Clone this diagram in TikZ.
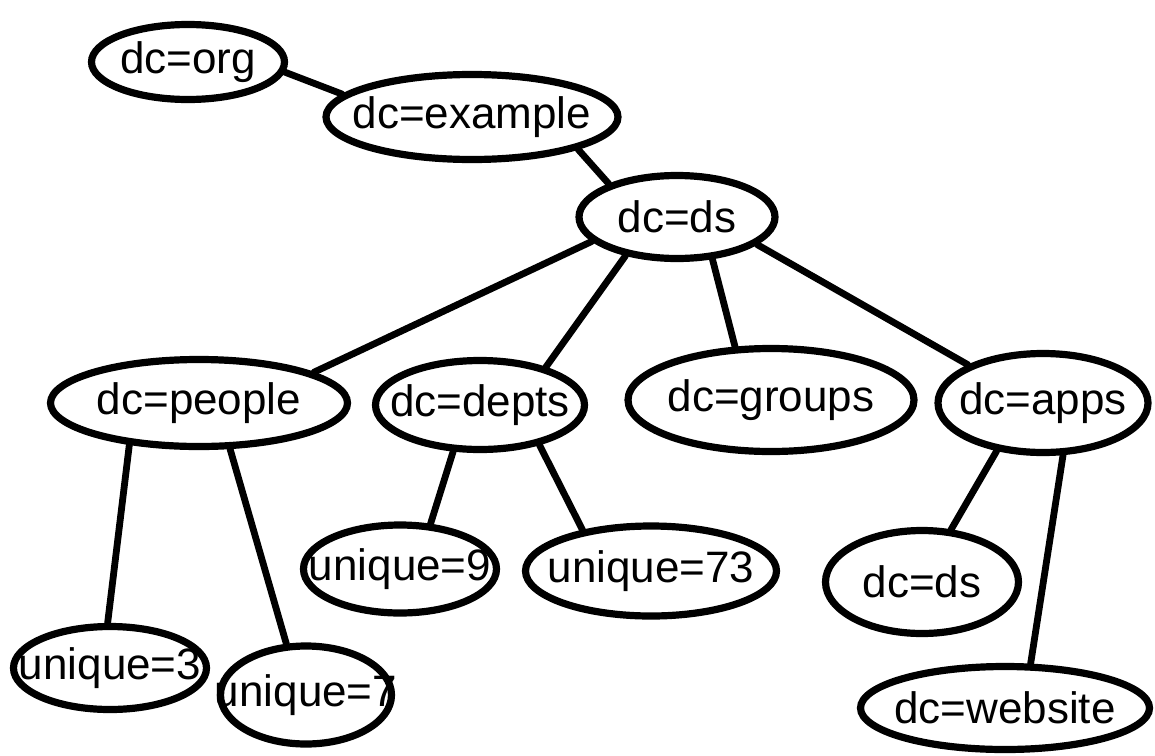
\documentclass[tikz,border=0pt]{standalone}
\usepackage{fontspec}
\setmainfont{Liberation Sans}
\usepackage{xcolor}
\usepackage{tikz}
\usetikzlibrary{shapes.geometric}
\definecolor{ink}{HTML}{000000}
\definecolor{paper}{HTML}{FFFFFF}
\newcommand{\dnlabel}[1]{\makebox[0pt]{#1}}
\tikzset{
  entry/.style={ellipse, draw=ink, fill=paper, line width=3.6pt, inner sep=0pt,
    font=\fontsize{22}{26}\selectfont},
  link/.style={draw=ink, line width=3.4pt, line cap=round},
}

\begin{document}
\begin{tikzpicture}[x=0.5pt, y=-0.5pt]
  \useasboundingbox (0,0) rectangle (1155,755);
  \node[entry, minimum width=96.5pt, minimum height=37.5pt] (org) at (188,62) {\dnlabel{dc=org}};
  \node[entry, minimum width=146pt, minimum height=42.5pt] (example) at (472,117) {\dnlabel{dc=example}};
  \node[entry, minimum width=98pt, minimum height=41.5pt] (ds) at (677,217) {\dnlabel{dc=ds}};
  \node[entry, minimum width=148.5pt, minimum height=43.5pt] (people) at (199,403) {\dnlabel{dc=people}};
  \node[entry, minimum width=104.5pt, minimum height=44.5pt] (depts) at (480,405) {\dnlabel{dc=depts}};
  \node[entry, minimum width=143pt, minimum height=51.5pt] (groups) at (771,400) {\dnlabel{dc=groups}};
  \node[entry, minimum width=105pt, minimum height=49.5pt] (apps) at (1043,403) {\dnlabel{dc=apps}};
  \node[entry, minimum width=96.5pt, minimum height=44pt] (uniq9) at (400,569) {\dnlabel{unique=9}};
  \node[entry, minimum width=125.5pt, minimum height=45pt] (uniq73) at (651,571) {\dnlabel{unique=73}};
  \node[entry, minimum width=96.5pt, minimum height=51.5pt] (appds) at (922,582) {\dnlabel{dc=ds}};
  \node[entry, minimum width=96.5pt, minimum height=41.5pt] (uniq3) at (110,668) {\dnlabel{unique=3}};
  \node[entry, minimum width=85.5pt, minimum height=49pt] (uniq7) at (306,695) {\dnlabel{unique=7}};
  \node[entry, minimum width=144.5pt, minimum height=41.5pt] (website) at (1005,708) {\dnlabel{dc=website}};

  \draw[link] (org.-6) -- (example.170);
  \draw[link] (example.-17) -- (ds.154);
  \draw[link] (ds.196) -- (people.15);
  \draw[link] (ds.217) -- (depts.30);
  \draw[link] (ds.-50) -- (groups.124);
  \draw[link] (ds.-19) -- (apps.153);
  \draw[link] (people.211) -- (uniq3.93);
  \draw[link] (people.-56) -- (uniq7.111);
  \draw[link] (depts.240) -- (uniq9.56);
  \draw[link] (depts.-34) -- (uniq73.149);
  \draw[link] (apps.226) -- (appds.61);
  \draw[link] (apps.-69) -- (website.60);
\end{tikzpicture}
\end{document}
